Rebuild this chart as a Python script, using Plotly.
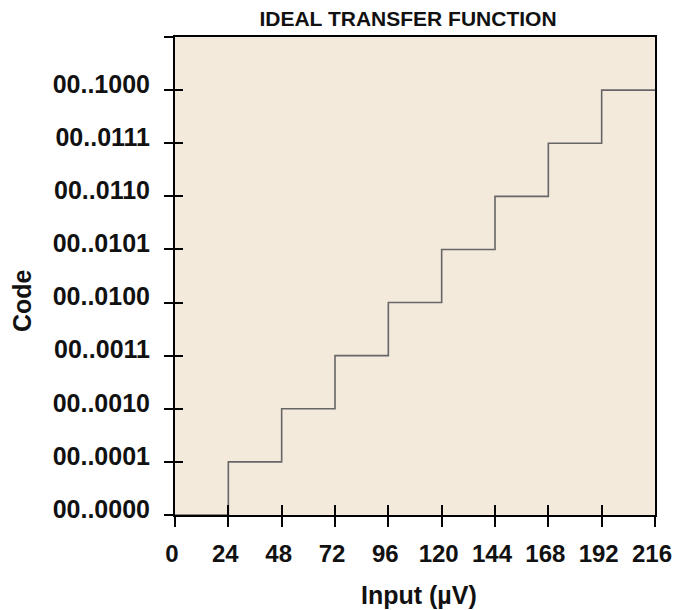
import plotly.graph_objects as go

# Input thresholds (µV) and the output code reached at each step
input_uv = [0, 24, 48, 72, 96, 120, 144, 168, 192, 216]
code_level = [0, 1, 2, 3, 4, 5, 6, 7, 8, 8]

x_ticks = [0, 24, 48, 72, 96, 120, 144, 168, 192, 216]
y_ticks = [0, 1, 2, 3, 4, 5, 6, 7, 8, 9]
y_tick_text = ["00..0000", "00..0001", "00..0010", "00..0011", "00..0100",
               "00..0101", "00..0110", "00..0111", "00..1000", ""]

FONT = "Liberation Sans, Arial, Helvetica, sans-serif"
BG = "#F4EADC"
INK = "#111111"

fig = go.Figure()

fig.add_trace(go.Scatter(
    x=input_uv, y=code_level, mode="lines", line_shape="hv",
    line=dict(color="#666666", width=1.6), hoverinfo="skip", showlegend=False,
))

# Invisible trace on the overlay axes so their inward ticks are drawn
fig.add_trace(go.Scatter(
    x=[input_uv[0]], y=[code_level[0]], xaxis="x2", yaxis="y2",
    mode="markers", marker=dict(opacity=0), hoverinfo="skip", showlegend=False,
))

x_tick_font = dict(family=FONT, size=24, color=INK)
y_tick_font = dict(family=FONT, size=25, color=INK)
label_font = dict(family=FONT, size=25, color=INK)

fig.update_layout(
    width=677, height=610,
    margin=dict(l=175, r=22, t=37, b=95),
    paper_bgcolor="white",
    plot_bgcolor=BG,
    title=dict(
        text="<b>IDEAL TRANSFER FUNCTION</b>",
        font=dict(family=FONT, size=21, color=INK),
        x=408 / 677, xanchor="center",
        y=1 - 19 / 610, yanchor="middle",
    ),
    xaxis=dict(
        range=[0, 216], tickvals=x_ticks, ticktext=[f"<b>{v}</b>" for v in x_ticks],
        tickfont=x_tick_font, ticks="outside", ticklen=10, tickwidth=1.5,
        tickcolor="black", showline=True, linecolor="black", linewidth=2,
        mirror=True, showgrid=False, zeroline=False, automargin=False,
        ticklabelshift=-3, ticklabelstandoff=6,
    ),
    yaxis=dict(
        range=[0, 9], tickvals=y_ticks,
        ticktext=[f"<b>{t}</b>" if t else "" for t in y_tick_text],
        tickfont=y_tick_font, ticks="outside", ticklen=9, tickwidth=1.5,
        tickcolor="black", showline=True, linecolor="black", linewidth=2,
        mirror=True, showgrid=False, zeroline=False, automargin=False,
        ticklabelshift=-6, ticklabelstandoff=9,
    ),
    xaxis2=dict(
        overlaying="x", matches="x", range=[0, 216], tickvals=x_ticks,
        showticklabels=False, ticks="inside", ticklen=10, tickwidth=1.5,
        tickcolor="black", showline=False, showgrid=False, zeroline=False,
    ),
    yaxis2=dict(
        overlaying="y", matches="y", range=[0, 9], tickvals=y_ticks,
        showticklabels=False, ticks="inside", ticklen=8, tickwidth=1.5,
        tickcolor="black", showline=False, showgrid=False, zeroline=False,
    ),
    annotations=[
        dict(text="<b>Input (µV)</b>", font=label_font, showarrow=False,
             xref="paper", yref="paper", x=(419 - 175) / 480, y=(515 - 595) / 478,
             xanchor="center", yanchor="middle"),
        dict(text="<b>Code</b>", font=label_font, showarrow=False, textangle=-90,
             xref="paper", yref="paper", x=(22 - 175) / 480, y=(515 - 301) / 478,
             xanchor="center", yanchor="middle"),
    ],
)

fig.write_html("out.html")
